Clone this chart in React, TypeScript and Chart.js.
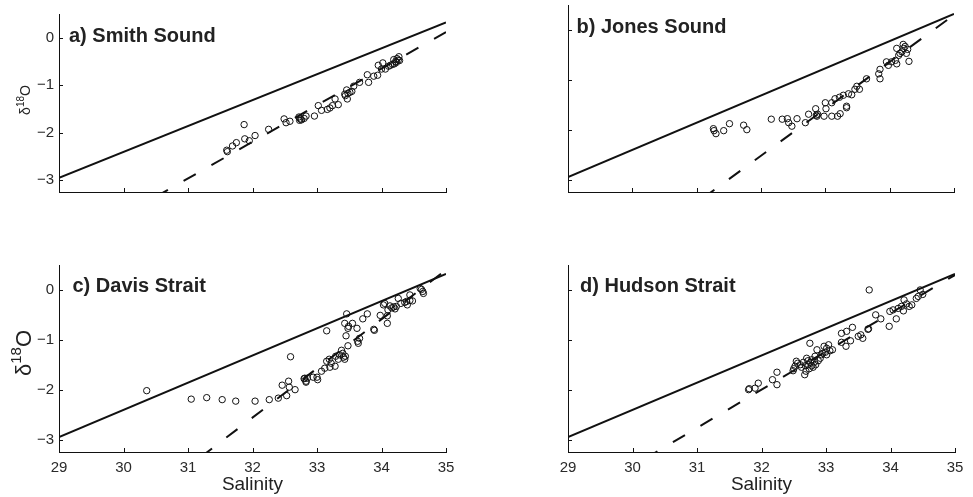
import React, { useEffect, useRef } from "react";
import { Chart, registerables } from "chart.js";

Chart.register(...registerables);

// ---------- axes ----------
const salinityTicks = [29, 30, 31, 32, 33, 34, 35];
const d18OTicks = [-3, -2, -1, 0];
const salinityRange = [29, 35];
const d18ORange = [-3.25, 0.5];

// ---------- reference (solid) line, same in every panel ----------
const refLineSal = [29, 35];
const refLineD18O = [-2.95, 0.32];

// ---------- a) Smith Sound ----------
const smithSal = [31.60, 31.61, 31.69, 31.75, 31.87, 31.88, 31.95, 32.04, 32.25, 32.49, 32.52, 32.58, 32.72, 32.73, 32.74, 32.76, 32.80, 32.83, 32.96, 33.02, 33.07, 33.16, 33.20, 33.24, 33.28, 33.33, 33.43, 33.44, 33.46, 33.47, 33.48, 33.51, 33.54, 33.57, 33.66, 33.78, 33.80, 33.88, 33.94, 33.95, 34.00, 34.02, 34.06, 34.11, 34.14, 34.17, 34.19, 34.20, 34.22, 34.23, 34.24, 34.26, 34.27, 34.28];
const smithD18O = [-2.37, -2.40, -2.28, -2.21, -1.83, -2.13, -2.17, -2.06, -1.93, -1.71, -1.79, -1.76, -1.67, -1.74, -1.71, -1.73, -1.70, -1.65, -1.65, -1.43, -1.53, -1.51, -1.48, -1.43, -1.29, -1.41, -1.19, -1.22, -1.10, -1.29, -1.17, -1.15, -1.13, -1.02, -0.94, -0.78, -0.94, -0.81, -0.79, -0.58, -0.66, -0.53, -0.66, -0.60, -0.58, -0.56, -0.46, -0.55, -0.50, -0.52, -0.44, -0.47, -0.40, -0.48];
const smithMixSal = [30.5, 35];
const smithMixD18O = [-3.35, 0.12];

// ---------- b) Jones Sound ----------
const jonesSal = [31.26, 31.27, 31.30, 31.42, 31.51, 31.73, 31.78, 32.16, 32.33, 32.41, 32.43, 32.48, 32.56, 32.69, 32.74, 32.85, 32.86, 32.87, 32.88, 32.98, 33.00, 33.01, 33.10, 33.10, 33.15, 33.19, 33.22, 33.23, 33.28, 33.33, 33.33, 33.36, 33.41, 33.46, 33.49, 33.53, 33.64, 33.83, 33.85, 33.85, 33.95, 33.98, 34.03, 34.09, 34.11, 34.11, 34.14, 34.16, 34.19, 34.21, 34.22, 34.24, 34.26, 34.28, 34.30];
const jonesD18O = [-1.98, -2.02, -2.08, -2.02, -1.88, -1.91, -2.00, -1.79, -1.79, -1.78, -1.86, -1.93, -1.78, -1.86, -1.69, -1.58, -1.71, -1.73, -1.69, -1.73, -1.46, -1.58, -1.46, -1.73, -1.38, -1.73, -1.35, -1.68, -1.31, -1.53, -1.56, -1.28, -1.30, -1.19, -1.13, -1.19, -0.98, -0.88, -0.79, -0.98, -0.64, -0.71, -0.64, -0.61, -0.68, -0.37, -0.51, -0.47, -0.44, -0.29, -0.37, -0.33, -0.47, -0.39, -0.63];
const jonesMixSal = [31.1, 35];
const jonesMixD18O = [-3.37, 0.30];

// ---------- c) Davis Strait ----------
const davisSal = [30.36, 31.05, 31.29, 31.53, 31.74, 32.04, 32.26, 32.40, 32.46, 32.53, 32.56, 32.57, 32.59, 32.66, 32.80, 32.81, 32.83, 32.83, 32.85, 32.94, 33.00, 33.01, 33.07, 33.12, 33.15, 33.15, 33.19, 33.20, 33.22, 33.28, 33.29, 33.33, 33.35, 33.38, 33.40, 33.41, 33.43, 33.43, 33.44, 33.45, 33.46, 33.48, 33.48, 33.49, 33.55, 33.62, 33.63, 33.64, 33.66, 33.71, 33.78, 33.88, 33.89, 33.98, 34.03, 34.05, 34.09, 34.09, 34.10, 34.13, 34.16, 34.19, 34.21, 34.23, 34.26, 34.30, 34.36, 34.39, 34.40, 34.44, 34.44, 34.48, 34.60, 34.62, 34.64, 34.65];
const davisD18O = [-2.02, -2.19, -2.16, -2.20, -2.23, -2.23, -2.20, -2.17, -1.91, -2.12, -1.83, -1.95, -1.34, -2.00, -1.78, -1.77, -1.83, -1.85, -1.77, -1.75, -1.75, -1.80, -1.63, -1.57, -0.82, -1.43, -1.39, -1.55, -1.47, -1.53, -1.33, -1.39, -1.30, -1.21, -1.27, -1.35, -1.39, -0.67, -1.33, -0.92, -0.48, -1.12, -0.77, -0.73, -0.67, -0.77, -1.03, -1.07, -0.97, -0.58, -0.48, -0.79, -0.81, -0.51, -0.30, -0.27, -0.52, -0.67, -0.40, -0.32, -0.36, -0.34, -0.38, -0.33, -0.17, -0.27, -0.25, -0.23, -0.30, -0.10, -0.21, -0.22, 0.03, 0.01, -0.03, -0.07];
const davisMixSal = [31.2, 35];
const davisMixD18O = [-3.35, 0.40];

// ---------- d) Hudson Strait ----------
const hudsonSal = [31.80, 31.81, 31.90, 31.95, 32.17, 32.24, 32.24, 32.49, 32.50, 32.52, 32.54, 32.56, 32.60, 32.62, 32.65, 32.67, 32.68, 32.69, 32.70, 32.72, 32.72, 32.74, 32.75, 32.76, 32.78, 32.78, 32.80, 32.82, 32.83, 32.84, 32.86, 32.88, 32.91, 32.93, 32.95, 32.97, 32.99, 33.01, 33.01, 33.04, 33.06, 33.10, 33.24, 33.24, 33.31, 33.32, 33.38, 33.41, 33.50, 33.54, 33.57, 33.65, 33.66, 33.67, 33.77, 33.85, 33.98, 33.99, 34.04, 34.09, 34.12, 34.17, 34.20, 34.21, 34.25, 34.29, 34.33, 34.40, 34.43, 34.46, 34.50];
const hudsonD18O = [-2.00, -1.98, -1.97, -1.87, -1.80, -1.65, -1.90, -1.62, -1.58, -1.53, -1.43, -1.47, -1.50, -1.55, -1.45, -1.70, -1.52, -1.63, -1.37, -1.50, -1.42, -1.58, -1.07, -1.45, -1.40, -1.52, -1.55, -1.45, -1.33, -1.50, -1.20, -1.42, -1.37, -1.30, -1.27, -1.13, -1.25, -1.17, -1.30, -1.10, -1.22, -1.20, -0.87, -1.05, -1.13, -0.83, -1.02, -0.75, -0.93, -0.90, -0.97, -0.79, -0.78, 0.00, -0.50, -0.58, -0.73, -0.43, -0.40, -0.58, -0.37, -0.33, -0.42, -0.20, -0.28, -0.33, -0.30, -0.17, -0.13, 0.00, -0.09];
const hudsonMixSal = [30.2, 35];
const hudsonMixD18O = [-3.38, 0.30];

// ---------- layout (not data) ----------
const FONT = '"Liberation Sans", Arial, Helvetica, sans-serif';
const INK = "#111111";

type Box = { left: number; top: number; width: number; height: number };
type Area = { left: number; top: number; right: number; bottom: number };
type PanelCfg = {
  title: string;
  sal: number[];
  d18o: number[];
  mixSal: number[];
  mixD18O: number[];
  box: Box;
  area: Area;
  showX: boolean;
  showY: boolean;
  yTitleSize: number;
  yTitleBaseX: number;
  yTitleCenterY: number;
  titleDx: number;
  titleDy: number;
};

const panels: PanelCfg[] = [
  {
    title: "a) Smith Sound", sal: smithSal, d18o: smithD18O, mixSal: smithMixSal, mixD18O: smithMixD18O,
    box: { left: 0, top: 0, width: 470, height: 240 }, area: { left: 59, top: 5, right: 446, bottom: 192 },
    showX: false, showY: true, yTitleSize: 14, yTitleBaseX: 29.5, yTitleCenterY: 100, titleDx: 10, titleDy: 28,
  },
  {
    title: "b) Jones Sound", sal: jonesSal, d18o: jonesD18O, mixSal: jonesMixSal, mixD18O: jonesMixD18O,
    box: { left: 490, top: 0, width: 483, height: 240 }, area: { left: 568, top: 5, right: 954, bottom: 192 },
    showX: false, showY: false, yTitleSize: 0, yTitleBaseX: 0, yTitleCenterY: 0, titleDx: 8.5, titleDy: 28,
  },
  {
    title: "c) Davis Strait", sal: davisSal, d18o: davisD18O, mixSal: davisMixSal, mixD18O: davisMixD18O,
    box: { left: 0, top: 250, width: 470, height: 247 }, area: { left: 59, top: 265, right: 446, bottom: 452 },
    showX: true, showY: true, yTitleSize: 22, yTitleBaseX: 30.5, yTitleCenterY: 353, titleDx: 13.5, titleDy: 27,
  },
  {
    title: "d) Hudson Strait", sal: hudsonSal, d18o: hudsonD18O, mixSal: hudsonMixSal, mixD18O: hudsonMixD18O,
    box: { left: 490, top: 250, width: 483, height: 247 }, area: { left: 568, top: 265, right: 955, bottom: 452 },
    showX: true, showY: false, yTitleSize: 0, yTitleBaseX: 0, yTitleCenterY: 0, titleDx: 12, titleDy: 27,
  },
];

const fmtTick = (v: number) => (v < 0 ? "\u2212" + Math.abs(v) : String(v));

const decorPlugin = {
  id: "decor",
  afterDraw(chart: any, _args: any, opts: any) {
    const { ctx, chartArea, scales } = chart;
    ctx.save();
    // inward tick marks
    ctx.strokeStyle = INK;
    ctx.lineWidth = 1;
    for (const t of scales.x.ticks) {
      const px = Math.round(scales.x.getPixelForValue(t.value)) + 0.5;
      ctx.beginPath();
      ctx.moveTo(px, chartArea.bottom);
      ctx.lineTo(px, chartArea.bottom - 4);
      ctx.stroke();
    }
    for (const t of scales.y.ticks) {
      const py = Math.round(scales.y.getPixelForValue(t.value)) + 0.5;
      ctx.beginPath();
      ctx.moveTo(chartArea.left, py);
      ctx.lineTo(chartArea.left + 4, py);
      ctx.stroke();
    }
    // panel title
    ctx.fillStyle = "#222";
    ctx.font = `bold 20px ${FONT}`;
    ctx.textBaseline = "alphabetic";
    ctx.textAlign = "left";
    ctx.fillText(opts.title, chartArea.left + opts.titleDx, chartArea.top + opts.titleDy);
    // y-axis title: delta 18 O with superscript
    if (opts.yTitleSize > 0) {
      const f = opts.yTitleSize;
      const fs = Math.round(f * 0.68);
      ctx.translate(opts.yTitleBaseX, opts.yTitleCenterY);
      ctx.rotate(-Math.PI / 2);
      ctx.font = `${f}px ${FONT}`;
      const wD = ctx.measureText("\u03b4").width;
      const wO = ctx.measureText("O").width;
      ctx.font = `${fs}px ${FONT}`;
      const w18 = ctx.measureText("18").width;
      let x = -(wD + w18 + wO) / 2;
      ctx.font = `${f}px ${FONT}`;
      ctx.fillText("\u03b4", x, 0);
      x += wD;
      ctx.font = `${fs}px ${FONT}`;
      ctx.fillText("18", x, -f * 0.42);
      x += w18;
      ctx.font = `${f}px ${FONT}`;
      ctx.fillText("O", x, 0);
    }
    ctx.restore();
  },
};

function Panel({ cfg }: { cfg: PanelCfg }) {
  const ref = useRef<HTMLCanvasElement>(null);
  useEffect(() => {
    const { box, area } = cfg;
    const padTop = area.top - box.top;
    const padRight = box.left + box.width - area.right;
    const yWidth = area.left - box.left;
    const xHeight = box.top + box.height - area.bottom;
    const y0 = cfg.yTitleCenterY - box.top;

    const points = cfg.sal.map((s, i) => ({ x: s, y: cfg.d18o[i] }));
    const refLine = refLineSal.map((s, i) => ({ x: s, y: refLineD18O[i] }));
    const mixLine = cfg.mixSal.map((s, i) => ({ x: s, y: cfg.mixD18O[i] }));

    const chart = new Chart(ref.current as HTMLCanvasElement, {
      type: "scatter",
      data: {
        datasets: [
          {
            type: "line",
            data: refLine,
            borderColor: INK,
            borderWidth: 2,
            pointRadius: 0,
            fill: false,
            tension: 0,
          } as any,
          {
            type: "line",
            data: mixLine,
            borderColor: INK,
            borderWidth: 2,
            borderDash: [14, 18],
            pointRadius: 0,
            fill: false,
            tension: 0,
          } as any,
          {
            type: "scatter",
            data: points,
            pointRadius: 3.2,
            pointBorderWidth: 1,
            pointBorderColor: INK,
            pointBackgroundColor: "rgba(0,0,0,0)",
            showLine: false,
          } as any,
        ],
      },
      options: {
        responsive: false,
        animation: false,
        devicePixelRatio: 1,
        events: [],
        layout: { padding: { top: padTop, right: padRight, left: 0, bottom: 0 } },
        plugins: {
          legend: { display: false },
          tooltip: { enabled: false },
          decor: {
            title: cfg.title,
            titleDx: cfg.titleDx,
            titleDy: cfg.titleDy,
            yTitleSize: cfg.yTitleSize,
            yTitleBaseX: cfg.yTitleBaseX,
            yTitleCenterY: y0,
          },
        } as any,
        scales: {
          x: {
            type: "linear",
            min: salinityRange[0],
            max: salinityRange[1],
            afterBuildTicks: (s: any) => {
              s.ticks = salinityTicks.map((v) => ({ value: v }));
            },
            afterFit: (s: any) => {
              s.height = xHeight;
            },
            grid: { display: false, drawTicks: false, tickLength: 0 },
            border: { display: true, color: INK, width: 1 },
            ticks: {
              display: cfg.showX,
              font: { family: FONT, size: 15 },
              color: "#2a2a2a",
              padding: 7,
              maxRotation: 0,
              autoSkip: false,
              callback: (v: any) => fmtTick(Number(v)),
            },
            title: {
              display: cfg.showX,
              text: "Salinity",
              font: { family: FONT, size: 19 },
              color: "#222",
              padding: { top: 0, bottom: 1 },
            },
          },
          y: {
            type: "linear",
            min: d18ORange[0],
            max: d18ORange[1],
            afterBuildTicks: (s: any) => {
              s.ticks = d18OTicks.map((v) => ({ value: v }));
            },
            afterFit: (s: any) => {
              s.width = yWidth;
            },
            grid: { display: false, drawTicks: false, tickLength: 0 },
            border: { display: true, color: INK, width: 1 },
            ticks: {
              display: cfg.showY,
              font: { family: FONT, size: 15 },
              color: "#2a2a2a",
              padding: 5,
              autoSkip: false,
              callback: (v: any) => fmtTick(Number(v)),
            },
          },
        },
      } as any,
      plugins: [decorPlugin as any],
    });
    return () => chart.destroy();
  }, [cfg]);

  return (
    <canvas
      ref={ref}
      width={cfg.box.width}
      height={cfg.box.height}
      style={{
        position: "absolute",
        left: cfg.box.left,
        top: cfg.box.top,
        width: cfg.box.width,
        height: cfg.box.height,
      }}
    />
  );
}

export default function App() {
  return (
    <div
      style={{
        position: "absolute",
        left: 0,
        top: 0,
        width: 973,
        height: 497,
        background: "#ffffff",
        overflow: "hidden",
      }}
    >
      {panels.map((p) => (
        <Panel key={p.title} cfg={p} />
      ))}
    </div>
  );
}
